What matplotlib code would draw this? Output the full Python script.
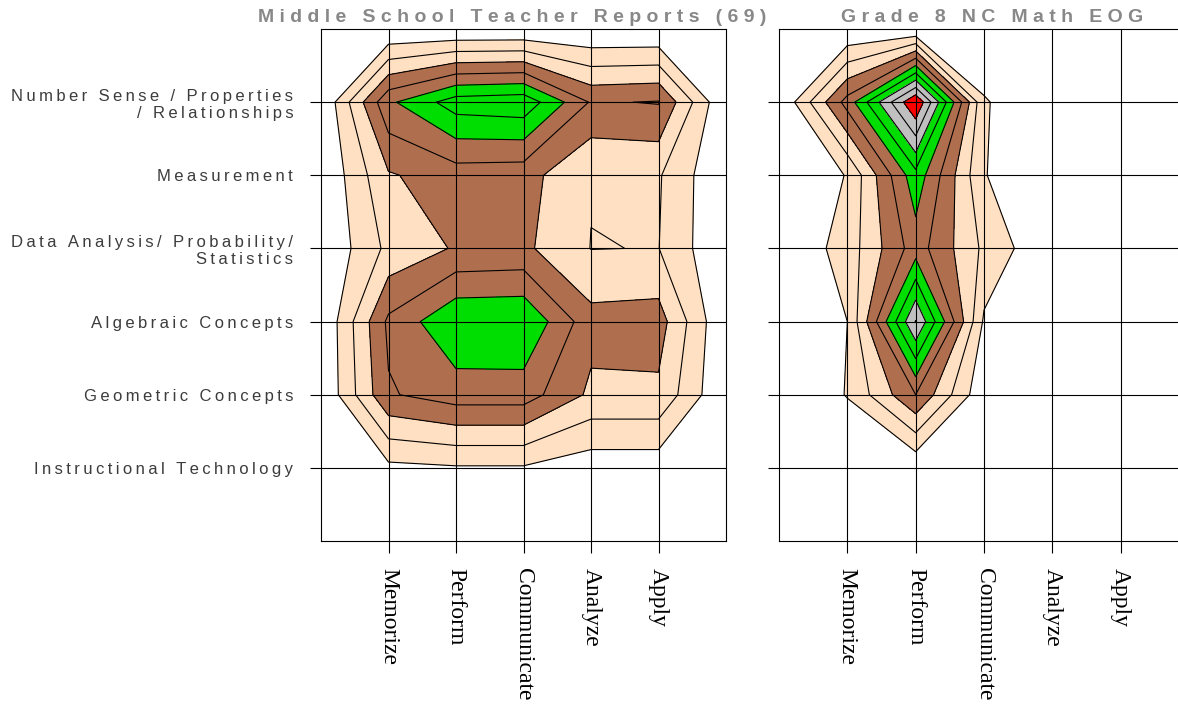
import numpy as np
import matplotlib
matplotlib.use("Agg")
import matplotlib.pyplot as plt

# content areas (rows) and cognitive expectations (columns)
content_areas = [
    "Number Sense / Properties\n/ Relationships",
    "Measurement",
    "Data Analysis/ Probability/\nStatistics",
    "Algebraic Concepts",
    "Geometric Concepts",
    "Instructional Technology",
]
expectations = ["Memorize", "Perform", "Communicate", "Analyze", "Apply"]

# emphasis values (contour interval = 1)
teacher_reports = [
    [4.8, 6.5, 6.7, 3.9, 4.06],
    [2.9, 3.5, 3.4, 2.05, 2.1],
    [2.25, 3.1, 3.2, 1.98, 2.02],
    [4.2, 5.9, 5.95, 3.35, 3.45],
    [3.9, 4.5, 4.5, 2.8, 2.8],
    [0.75, 0.9, 0.9, 0.4, 0.4],
]
nc_math_eog = [
    [4.4, 10.0, 1.1, 0.0, 0.0],
    [1.05, 5.65, 1.05, 0.0, 0.0],
    [1.45, 4.5, 1.8, 0.0, 0.0],
    [1.0, 8.05, 0.85, 0.0, 0.0],
    [1.05, 4.0, 0.2, 0.0, 0.0],
    [0.0, 0.15, 0.0, 0.0, 0.0],
]

levels = [1, 2, 3, 4, 5, 6, 7, 8, 9, 12]
band_colors = ["#FFE0C2", "#FFE0C2", "#AF6F4F", "#AF6F4F", "#00DD00",
               "#00DD00", "#C0C0C0", "#C0C0C0", "#FF0000"]

titles = ["Middle School Teacher Reports (69)", "Grade 8 NC Math EOG"]


def spaced(text, gap):
    return "\n".join(gap.join(line) for line in text.split("\n"))


fig = plt.figure(figsize=(11.78, 7.04), dpi=100)
ax1 = fig.add_axes([321 / 1178, 163 / 704, 405 / 1178, 512 / 704])
ax2 = fig.add_axes([779 / 1178, 163 / 704, 410 / 1178, 512 / 704])


def draw_map(ax, values):
    z = np.pad(np.array(values, dtype=float), 1)
    xs = np.arange(-1, len(expectations) + 1)
    ys = np.arange(-1, len(content_areas) + 1)
    ax.contourf(xs, ys, z, levels=levels, colors=band_colors)
    ax.contour(xs, ys, z, levels=levels[:-1], colors="black", linewidths=0.8)
    ax.set_xlim(-1, len(expectations))
    ax.set_ylim(len(content_areas), -1)
    ax.set_xticks(range(len(expectations)))
    ax.set_yticks(range(len(content_areas)))
    ax.set_xticklabels(expectations, rotation=270, va="top", ha="center",
                       fontfamily="Liberation Serif", fontsize=17)
    ax.grid(True, color="black", linewidth=0.8)
    ax.set_axisbelow(False)
    ax.tick_params(axis="x", length=8.5, width=0.8, pad=11)
    ax.tick_params(axis="y", length=8, width=0.8, pad=12)
    for sp in ax.spines.values():
        sp.set_linewidth(0.8)


draw_map(ax1, teacher_reports)
draw_map(ax2, nc_math_eog)
ax2.spines["right"].set_visible(False)

ax1.set_yticklabels([spaced(c, "\u2009") for c in content_areas], fontsize=12,
                    color="#3c3c3c", family=["Liberation Sans", "DejaVu Sans"],
                    multialignment="right")
ax2.set_yticklabels([])

fig.text(512 / 1178, 1 - 17 / 704, spaced(titles[0], " "), ha="center", va="center",
         fontsize=14, fontweight="bold", color="#888888", family="Liberation Sans")
fig.text(992 / 1178, 1 - 17 / 704, spaced(titles[1], " "), ha="center", va="center",
         fontsize=14, fontweight="bold", color="#888888", family="Liberation Sans")

fig.savefig("out.png", dpi=100)
